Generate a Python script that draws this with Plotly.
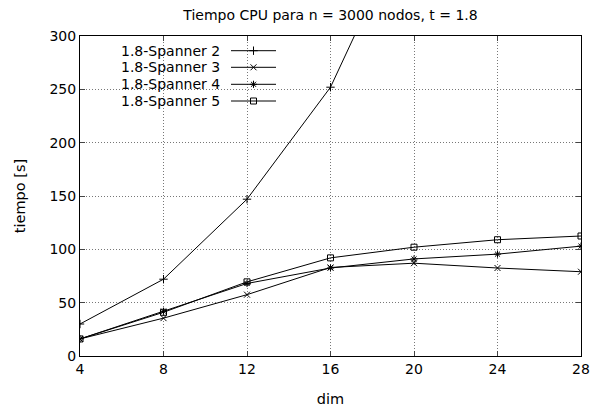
import plotly.graph_objects as go

dims = [4, 8, 12, 16, 20, 24, 28]
span2 = [30, 72, 147, 252, 420, None, None]
span3 = [16, 35.5, 57.5, 83, 87, 82.5, 79]
span4 = [16, 42, 68, 82.5, 91, 95.5, 103]
span5 = [16, 41, 69.5, 92, 102, 109, 112.5]
names = ["1.8-Spanner 2", "1.8-Spanner 3", "1.8-Spanner 4", "1.8-Spanner 5"]
symbols = ["cross-thin-open", "x-thin-open", "asterisk-open", "square-open"]
series = [span2, span3, span4, span5]
yticks = [0, 50, 100, 150, 200, 250, 300]

FONT = "DejaVu Sans, Liberation Sans, Arial, sans-serif"

fig = go.Figure()
for name, ys, sym in zip(names, series, symbols):
    fig.add_trace(go.Scatter(
        x=dims, y=ys, name=name, mode="lines+markers",
        line=dict(color="black", width=1),
        marker=dict(symbol=sym, size=6, color="black", line=dict(color="black", width=1)),
        showlegend=False,
    ))

# custom gnuplot-style legend: right-aligned text, sample line with marker
L, R, T, B = 80, 581, 36, 356
W, H = R - L, B - T
row_y = [50.7, 67.3, 84.3, 101]
def px(x): return (x - L) / W
def py(y): return (B - y) / H
for i, (name, sym) in enumerate(zip(names, symbols)):
    yy = py(row_y[i])
    fig.add_annotation(x=px(221), y=yy, xref="paper", yref="paper", text=name,
                       showarrow=False, xanchor="right", yanchor="middle",
                       borderpad=0,
                       font=dict(family=FONT, size=14, color="black"))
    fig.add_shape(type="line", xref="paper", yref="paper", x0=px(231), x1=px(276),
                  y0=yy, y1=yy, line=dict(color="black", width=1))
    fig.add_trace(go.Scatter(x=[px(253.5)], y=[yy], xaxis="x2", yaxis="y2", mode="markers",
                             marker=dict(symbol=sym, size=6, color="black",
                                         line=dict(color="black", width=1)),
                             showlegend=False, hoverinfo="skip"))

GRID = dict(showgrid=True, gridcolor="#777777", griddash="1px,2px", gridwidth=1)
fig.update_layout(
    width=598, height=411,
    margin=dict(l=L, r=598 - R, t=T, b=411 - B, autoexpand=False),
    paper_bgcolor="white", plot_bgcolor="white",
    font=dict(family=FONT, size=14, color="black"),
    title=dict(text="Tiempo CPU para n = 3000 nodos, t = 1.8", x=0.5,
               xref="paper", y=1 - 15 / 411, yanchor="middle",
               font=dict(family=FONT, size=14, color="black")),
    xaxis=dict(range=[4, 28], tickvals=dims, ticks="inside", ticklen=5, mirror="allticks",
               showline=True, linecolor="black", linewidth=1, zeroline=False,
               automargin=False,
               title=dict(text="dim", standoff=18, font=dict(size=14.5)),
               tickfont=dict(size=14), **GRID),
    yaxis=dict(range=[0, 300], tickvals=yticks, ticks="inside", ticklen=5, mirror="allticks",
               showline=True, linecolor="black", linewidth=1, zeroline=False,
               automargin=False,
               title=dict(text="tiempo [s]", standoff=20, font=dict(size=14.5)),
               tickfont=dict(size=14), **GRID),
    xaxis2=dict(range=[0, 1], overlaying="x", visible=False, domain=[0, 1]),
    yaxis2=dict(range=[0, 1], overlaying="y", visible=False),
)

fig.write_html("out.html")
